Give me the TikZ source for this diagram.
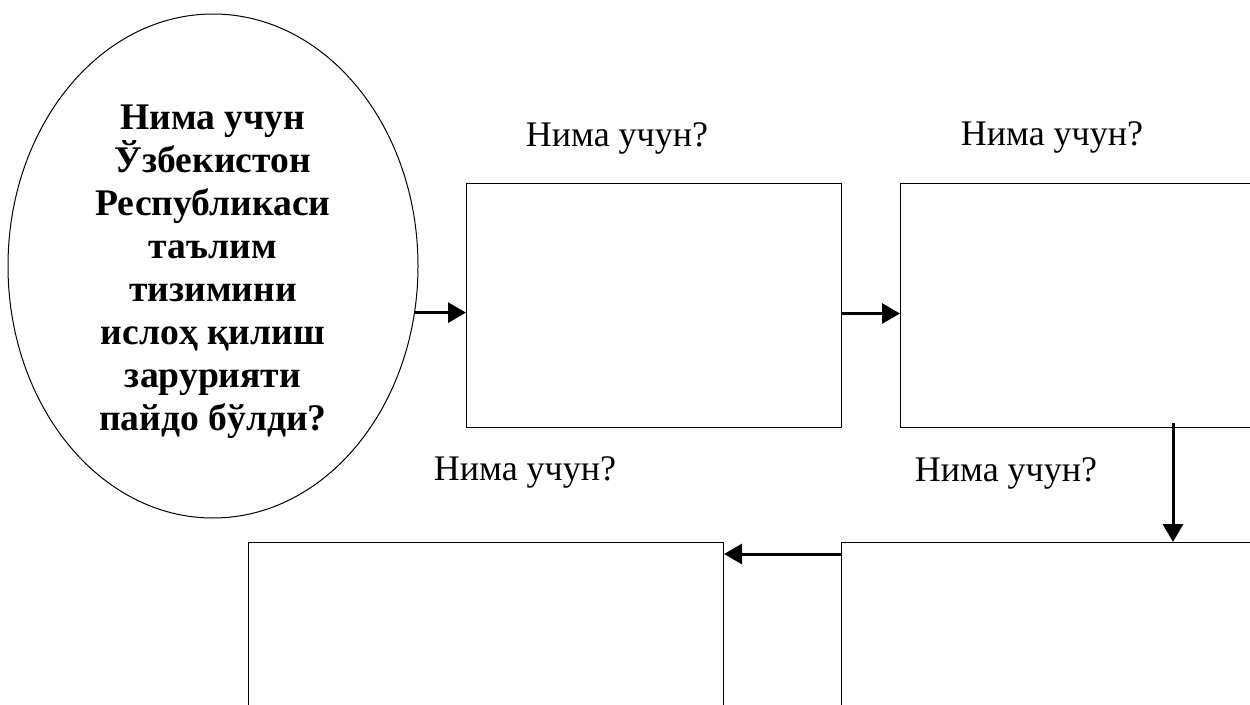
\documentclass[tikz,border=0pt]{standalone}
\usepackage{fontspec}
\setmainfont{Liberation Serif}
\usetikzlibrary{shapes.geometric,arrows.meta}
\begin{document}
\begin{tikzpicture}[x=1pt,y=-1pt,
  box/.style={draw,line width=1pt,inner sep=0pt,anchor=north west},
  arr/.style={line width=3pt,-{Triangle[length=18pt,width=20pt]}},
  lbl/.style={anchor=base,inner sep=0pt,font=\fontsize{36}{42}\selectfont},
  oval/.style={draw,ellipse,line width=1pt,inner sep=0pt},
  ovaltext/.style={inner sep=0pt,align=center,
    font=\fontsize{37.6}{43}\selectfont\bfseries}]
\useasboundingbox (0,0) rectangle (1250,704);
\clip (0,0) rectangle (1250,704);
\node[oval,minimum width=410pt,minimum height=504pt] (q) at (213,266) {};
\node[ovaltext] (qt) at ([yshift=-6pt]q.center)
  {Нима учун\\Ўзбекистон\\Республикаси\\таълим\\тизимини\\ислоҳ қилиш\\зарурияти\\пайдо бўлди?};
\node[box,minimum width=375pt,minimum height=244pt] (b1) at (466,183) {};
\node[box,minimum width=420pt,minimum height=244pt] (b2) at (900,183) {};
\node[box,minimum width=420pt,minimum height=230pt] (b3) at (841,542) {};
\node[box,minimum width=475pt,minimum height=230pt] (b4) at (248,542) {};
\node[lbl] (l1) at (617,146) {Нима учун?};
\node[lbl] (l2) at (1052,145) {Нима учун?};
\node[lbl] (l3) at (525,480) {Нима учун?};
\node[lbl] (l4) at (1006,481) {Нима учун?};
\coordinate (d) at (1173,423);
\draw[arr] (q.-13) -- (q.-13 -| b1.west);
\draw[arr] ([yshift=-8pt]b1.east) -- ([yshift=-8pt]b1.east -| b2.west);
\draw[arr] (d) -- (d |- b3.north);
\draw[arr] ([yshift=-12pt]b3.north west) -- ([yshift=-12pt]b3.north west -| b4.east);
\end{tikzpicture}
\end{document}
